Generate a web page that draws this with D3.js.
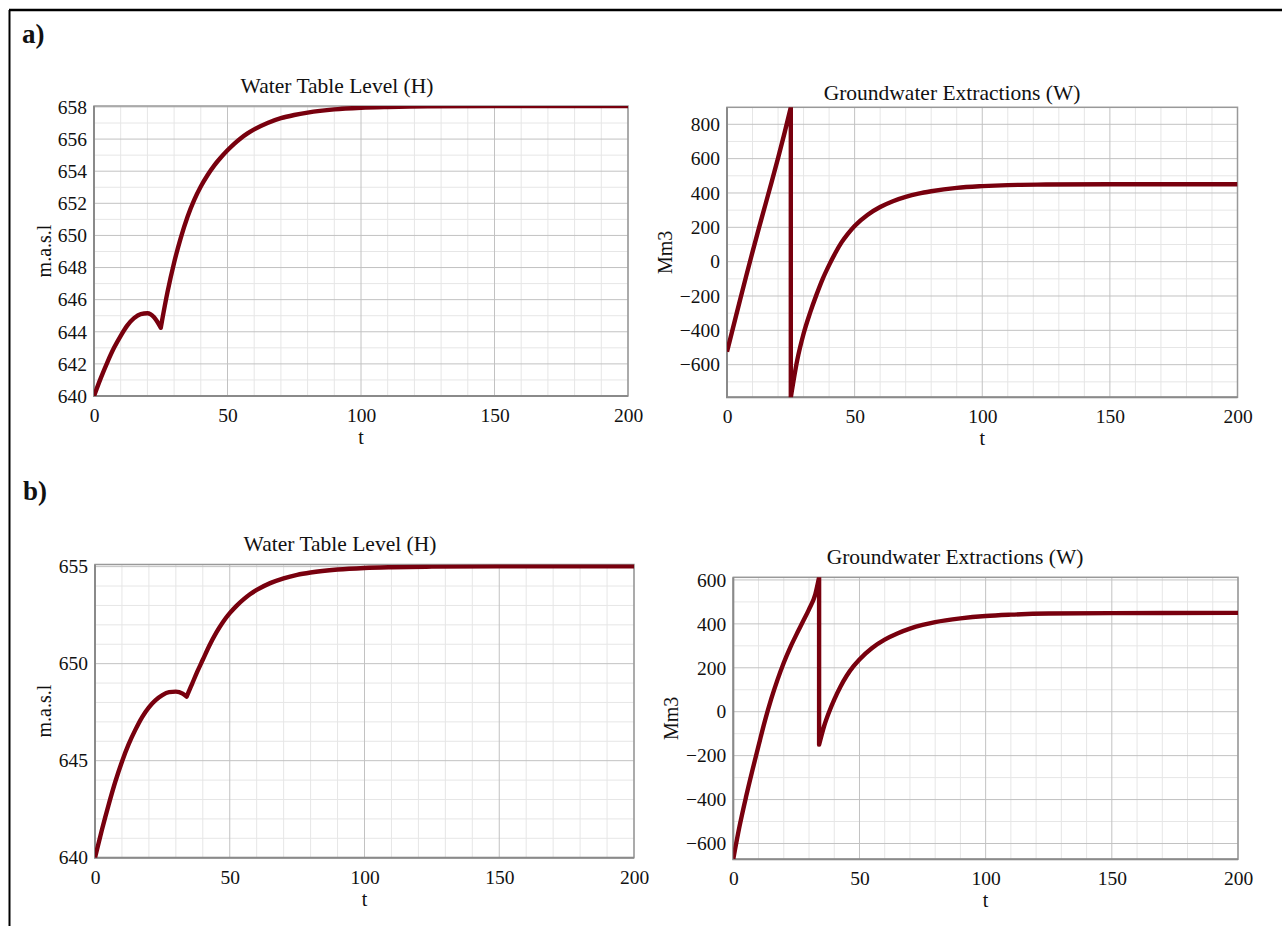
<!DOCTYPE html>
<html>
<head>
<meta charset="utf-8">
<script src="https://cdn.jsdelivr.net/npm/d3@7"></script>
<style>
  body { margin: 0; background: #fff; }
  svg { display: block; }
  text { font-family: "Liberation Serif", "Times New Roman", serif; fill: #111; }
</style>
</head>
<body>
<script>
// x axis shared by every panel
var tTicks = [0, 50, 100, 150, 200];

// y ticks
var levelTicksA = [640, 642, 644, 646, 648, 650, 652, 654, 656, 658];
var levelTicksB = [640, 645, 650, 655];
var extractTicksA = [-600, -400, -200, 0, 200, 400, 600, 800];
var extractTicksB = [-600, -400, -200, 0, 200, 400, 600];

// a) water table level, before and after the switch at t=25
var aLevelBefore = [[0, 640], [2.5, 641.1], [5, 642.1], [7.5, 643.0], [10, 643.75], [12.5, 644.4],
  [15, 644.85], [17.5, 645.1], [20, 645.15], [22.5, 644.9], [25, 644.25]];
var aLevelAfter = [[25, 644.25], [27.5, 646.45], [30, 648.3], [32.5, 649.85], [35, 651.15],
  [37.5, 652.2], [40, 653.05], [42.5, 653.75], [45, 654.35], [47.5, 654.85], [50, 655.3],
  [52.5, 655.7], [55, 656.05], [57.5, 656.35], [60, 656.6], [65, 657.0], [70, 657.3], [75, 657.5],
  [80, 657.65], [90, 657.85], [100, 657.95], [110, 658.0], [125, 658.04], [150, 658.05], [200, 658.05]];

// a) groundwater extractions
var aExtractBefore = [[0, -524], [2.5, -377], [5, -230], [7.5, -85], [10, 57], [12.5, 195], [15, 330],
  [17.5, 465], [20, 603], [22.5, 747], [25, 899]];
var aExtractAfter = [[25, -790], [27.5, -575], [30, -420], [32.5, -300], [35, -195], [37.5, -100],
  [40, -20], [42.5, 52], [45, 115], [47.5, 165], [50, 208], [55, 272], [60, 318], [65, 352],
  [70, 377], [75, 396], [80, 410], [90, 430], [100, 440], [110, 446], [125, 449], [150, 451], [200, 451]];

// b) water table level, switch at t=34
var bLevelBefore = [[0, 640], [2.5, 641.4], [5, 642.7], [7.5, 643.9], [10, 644.95], [12.5, 645.85],
  [15, 646.6], [17.5, 647.25], [20, 647.75], [22.5, 648.12], [25, 648.38], [27.5, 648.53],
  [30, 648.56], [32.5, 648.46], [34, 648.3]];
var bLevelAfter = [[34, 648.3], [36, 648.95], [38, 649.6], [40, 650.2], [42.5, 650.95], [45, 651.6],
  [47.5, 652.15], [50, 652.6], [52.5, 652.98], [55, 653.3], [57.5, 653.58], [60, 653.8],
  [65, 654.15], [70, 654.4], [75, 654.58], [80, 654.7], [90, 654.85], [100, 654.93],
  [110, 654.97], [125, 655.0], [150, 655.02], [200, 655.02]];

// b) groundwater extractions
var bExtractBefore = [[0, -670], [2.5, -520], [5, -390], [7.5, -270], [10, -155], [12.5, -43],
  [15, 57], [17.5, 145], [20, 223], [22.5, 291], [25, 351], [27.5, 408], [30, 466], [32.5, 535],
  [34, 612]];
var bExtractAfter = [[34, -150], [36, -65], [38, 0], [40, 55], [42.5, 115], [45, 165], [47.5, 205],
  [50, 238], [55, 290], [60, 328], [65, 356], [70, 378], [75, 395], [80, 408], [90, 425],
  [100, 436], [110, 442], [125, 447], [150, 449], [200, 450]];

var lineColor = "#78000e";

var svg = d3.select("body")
  .append("svg")
    .attr("width", 1284)
    .attr("height", 926);

svg.append("rect").attr("width", 1284).attr("height", 926).attr("fill", "#fff");

// frame round the figure
svg.append("line").attr("x1", 9.5).attr("y1", 10).attr("x2", 9.5).attr("y2", 926)
  .attr("stroke", "#000").attr("stroke-width", 2);
svg.append("line").attr("x1", 9).attr("y1", 10).attr("x2", 1282).attr("y2", 10)
  .attr("stroke", "#000").attr("stroke-width", 2.5);

svg.append("text").attr("x", 22).attr("y", 43).text("a)")
  .style("font-size", "27px").style("font-weight", "bold");
svg.append("text").attr("x", 23).attr("y", 500).text("b)")
  .style("font-size", "27px").style("font-weight", "bold");

var clipId = 0;

function drawPanel(p) {
  var x = d3.scaleLinear().domain([0, 200]).range([p.left, p.right]);
  var y = d3.scaleLinear().domain(p.yDomain).range([p.bottom, p.top]);
  var g = svg.append("g");

  // minor grid
  g.selectAll(".vminor")
    .data(d3.range(10, 200, 10).filter(d => d % 50 != 0))
    .enter().append("line")
      .attr("x1", d => x(d)).attr("x2", d => x(d))
      .attr("y1", p.top).attr("y2", p.bottom)
      .attr("stroke", "#e6e6e6").attr("stroke-width", 1);
  g.selectAll(".hminor")
    .data(d3.range(Math.ceil(p.yDomain[0] / p.minorStep) * p.minorStep, p.yDomain[1], p.minorStep)
      .filter(d => p.yTicks.indexOf(d) < 0))
    .enter().append("line")
      .attr("x1", p.left).attr("x2", p.right)
      .attr("y1", d => y(d)).attr("y2", d => y(d))
      .attr("stroke", "#e6e6e6").attr("stroke-width", 1);

  // major grid
  g.selectAll(".vmajor")
    .data(tTicks)
    .enter().append("line")
      .attr("x1", d => x(d)).attr("x2", d => x(d))
      .attr("y1", p.top).attr("y2", p.bottom)
      .attr("stroke", "#c2c2c2").attr("stroke-width", 1);
  g.selectAll(".hmajor")
    .data(p.yTicks)
    .enter().append("line")
      .attr("x1", p.left).attr("x2", p.right)
      .attr("y1", d => y(d)).attr("y2", d => y(d))
      .attr("stroke", "#c2c2c2").attr("stroke-width", 1);

  // box
  g.append("rect")
    .attr("x", p.left).attr("y", p.top)
    .attr("width", p.right - p.left).attr("height", p.bottom - p.top)
    .attr("fill", "none").attr("stroke", "#999").attr("stroke-width", 1.5);
  g.append("path")
    .attr("d", "M" + p.left + "," + p.top + "V" + p.bottom + "H" + p.right)
    .attr("fill", "none").attr("stroke", "#8a8a8a").attr("stroke-width", 2);

  // axes (labels only, the box and grid are drawn above)
  var xAxis = g.append("g")
    .attr("transform", "translate(0," + p.bottom + ")")
    .call(d3.axisBottom(x).tickValues(tTicks).tickSize(0).tickPadding(12));
  var yAxis = g.append("g")
    .attr("transform", "translate(" + p.left + ",0)")
    .call(d3.axisLeft(y).tickValues(p.yTicks).tickSize(0).tickPadding(7).tickFormat(d3.format("d")));
  [xAxis, yAxis].forEach(function(a) {
    a.attr("font-family", null).attr("font-size", null);
    a.select(".domain").remove();
    a.selectAll("text")
      .attr("font-family", "Liberation Serif")
      .style("font-family", "Liberation Serif")
      .style("font-size", "19.5px")
      .attr("fill", "#111");
  });

  // curve
  clipId++;
  svg.append("clipPath").attr("id", "clip" + clipId)
    .append("rect")
      .attr("x", p.left).attr("y", p.top)
      .attr("width", p.right - p.left).attr("height", p.bottom - p.top);

  var line = d3.line()
    .x(d => x(d[0]))
    .y(d => y(d[1]))
    .curve(d3.curveMonotoneX);

  g.append("path")
    .attr("d", line(p.before) + line(p.after).replace(/^M/, "L"))
    .attr("clip-path", "url(#clip" + clipId + ")")
    .attr("fill", "none")
    .attr("stroke", lineColor)
    .attr("stroke-width", 4.4)
    .attr("stroke-linejoin", "round");

  // titles
  g.append("text")
    .attr("x", p.titleX).attr("y", p.titleY)
    .attr("text-anchor", "middle")
    .style("font-size", "21.5px")
    .text(p.title);
  g.append("text")
    .attr("x", (p.left + p.right) / 2).attr("y", p.bottom + 48)
    .attr("text-anchor", "middle")
    .style("font-size", "20px")
    .text("t");
  g.append("text")
    .attr("transform", "translate(" + p.labelX + "," + (p.top + p.bottom) / 2 + ") rotate(-90)")
    .attr("text-anchor", "middle")
    .style("font-size", "20px")
    .text(p.yLabel);
}

drawPanel({
  left: 94, right: 628, top: 106, bottom: 396,
  yDomain: [640, 658.06], yTicks: levelTicksA, minorStep: 1,
  before: aLevelBefore, after: aLevelAfter,
  title: "Water Table Level (H)", titleX: 337, titleY: 93,
  yLabel: "m.a.s.l", labelX: 51
});

drawPanel({
  left: 727, right: 1237.5, top: 107.3, bottom: 397.3,
  yDomain: [-790, 899], yTicks: extractTicksA, minorStep: 100,
  before: aExtractBefore, after: aExtractAfter,
  title: "Groundwater Extractions (W)", titleX: 952, titleY: 99.5,
  yLabel: "Mm3", labelX: 672
});

drawPanel({
  left: 95, right: 634, top: 564.5, bottom: 857.7,
  yDomain: [640, 655.11], yTicks: levelTicksB, minorStep: 1,
  before: bLevelBefore, after: bLevelAfter,
  title: "Water Table Level (H)", titleX: 340, titleY: 551,
  yLabel: "m.a.s.l", labelX: 51
});

drawPanel({
  left: 733.3, right: 1238, top: 577.3, bottom: 859.3,
  yDomain: [-672, 612], yTicks: extractTicksB, minorStep: 100,
  before: bExtractBefore, after: bExtractAfter,
  title: "Groundwater Extractions (W)", titleX: 955, titleY: 564,
  yLabel: "Mm3", labelX: 677.5
});
</script>
</body>
</html>
